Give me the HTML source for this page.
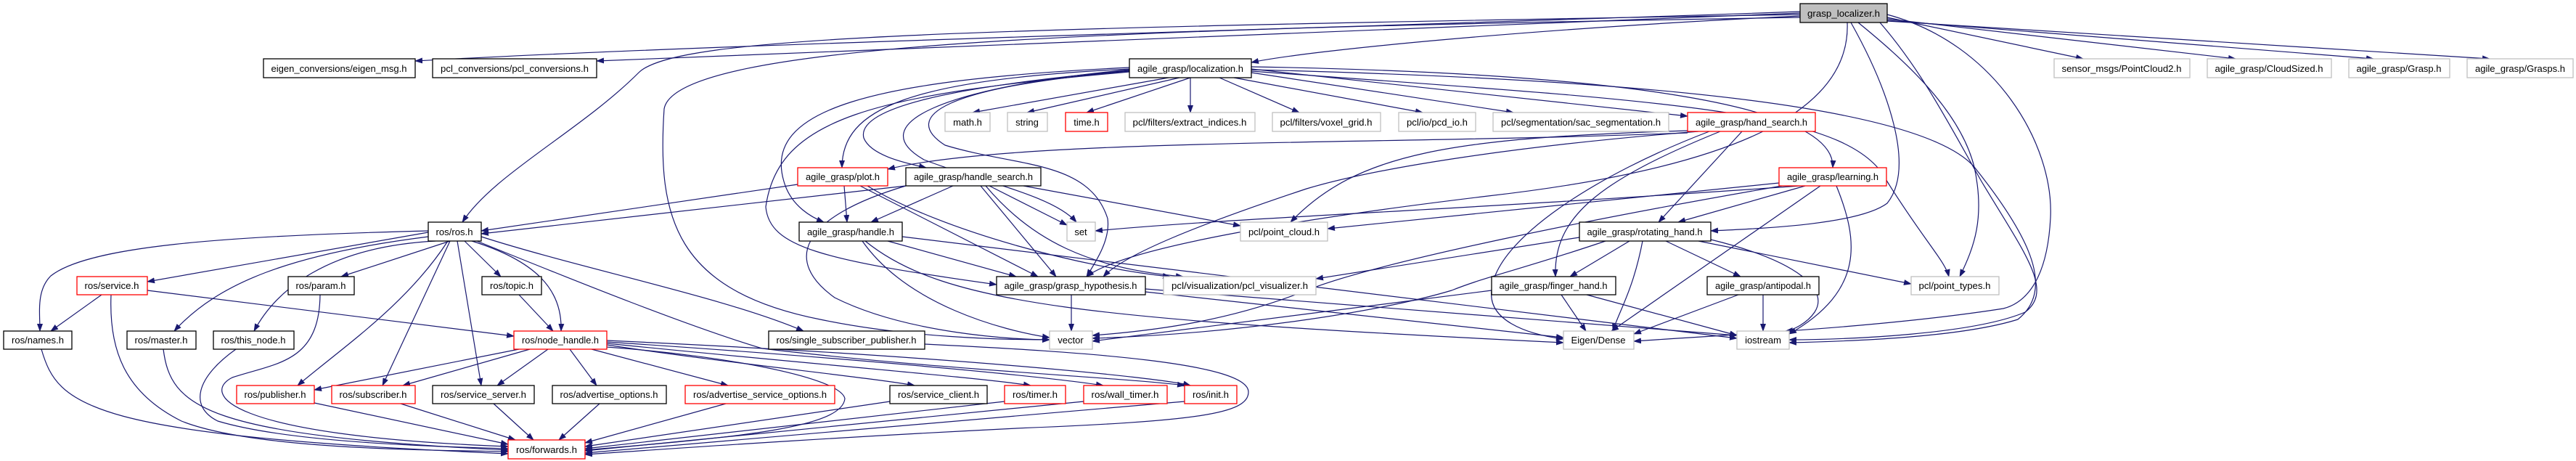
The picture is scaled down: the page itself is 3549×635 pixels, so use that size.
<!DOCTYPE html>
<html><head><meta charset="utf-8"><style>
html,body{margin:0;padding:0;background:#fff;}
svg{display:block;}
text{font-family:"Liberation Sans",sans-serif;font-size:13px;fill:#000;}
.e{fill:none;stroke:#191970;stroke-width:1.2;marker-end:url(#a);}
.k{fill:#fff;stroke:#000;stroke-width:1.3;}
.g{fill:#fff;stroke:#bfbfbf;stroke-width:1.3;}
.r{fill:#fff;stroke:#ff0000;stroke-width:1.3;}
</style></head><body>
<svg width="3549" height="635" viewBox="0 0 3549 635" xmlns="http://www.w3.org/2000/svg">
<defs><marker id="a" markerWidth="11" markerHeight="8" refX="10" refY="4" orient="auto" markerUnits="userSpaceOnUse"><path d="M0,0 L11,4 L0,8z" fill="#191970"/></marker></defs>
<g>
<!-- grasp_localizer -->
<path class="e" d="M2480,16 C1800,40 1000,60 572,84"/>
<path class="e" d="M2480,18 C1800,45 1100,70 822,84"/>
<path class="e" d="M2480,20 C1300,40 930,50 880,100 C800,180 680,240 637,306"/>
<path class="e" d="M2480,22 C2100,40 1800,70 1724,86"/>
<path class="e" d="M2480,24 C1500,40 930,60 915,150 C905,300 930,400 1130,440 C1250,465 1380,468 1446,468"/>
<path class="e" d="M2545,31 C2550,150 2400,230 2050,270 C1800,300 1550,340 1497,381"/>
<path class="e" d="M2550,31 C2600,120 2640,230 2600,280 C2560,310 2420,315 2357,318"/>
<path class="e" d="M2560,31 C2620,80 2700,150 2720,230 C2735,300 2720,340 2700,381"/>
<path class="e" d="M2600,20 C2750,60 2830,200 2825,300 C2820,400 2780,420 2760,425 C2600,450 2400,460 2251,470"/>
<path class="e" d="M2590,31 C2650,100 2690,180 2730,250 C2790,350 2830,400 2790,430 C2720,460 2550,468 2465,468"/>
<path class="e" d="M2600,24 L2870,81"/>
<path class="e" d="M2600,26 L3080,81"/>
<path class="e" d="M2600,28 L3270,81"/>
<path class="e" d="M2600,29 L3430,81"/>
<!-- localization -->
<path class="e" d="M1610,107 L1340,155"/>
<path class="e" d="M1625,107 L1415,155"/>
<path class="e" d="M1640,107 L1497,155"/>
<path class="e" d="M1640,107 L1640,155"/>
<path class="e" d="M1680,107 L1790,155"/>
<path class="e" d="M1700,107 L1960,155"/>
<path class="e" d="M1724,100 L2085,155"/>
<path class="e" d="M1724,95 L2325,160"/>
<path class="e" d="M1724,92 C2200,100 2530,140 2525,231"/>
<path class="e" d="M1724,98 C2300,140 2550,150 2600,250 C2650,330 2680,360 2685,381"/>
<path class="e" d="M1724,96 C2300,110 2650,150 2720,230 C2800,330 2830,400 2780,440 C2700,465 2550,470 2465,472"/>
<path class="e" d="M1556,95 C1250,110 1160,150 1160,231"/>
<path class="e" d="M1556,97 C1300,120 1180,150 1190,190 C1200,215 1250,225 1276,231"/>
<path class="e" d="M1556,93 C1200,110 1050,150 1080,250 C1090,285 1120,300 1135,306"/>
<path class="e" d="M1556,98 C1300,120 1240,160 1302,200 C1400,230 1500,220 1526,301 C1530,330 1510,360 1497,381"/>
<path class="e" d="M1556,96 C1300,120 1187,171 1273,220 C1350,250 1451,269 1483,306"/>
<path class="e" d="M1556,99 C1200,130 1072,163 1055,285 C1060,340 1130,358 1373,392"/>
<!-- ros -->
<path class="e" d="M590,320 L203,388"/>
<path class="e" d="M620,332 L470,381"/>
<path class="e" d="M640,332 L690,381"/>
<path class="e" d="M590,318 C300,325 120,340 70,380 C50,400 55,430 55,456"/>
<path class="e" d="M590,326 C400,350 300,390 240,456"/>
<path class="e" d="M600,332 C450,340 380,400 350,456"/>
<path class="e" d="M650,332 C740,360 775,400 773,456"/>
<path class="e" d="M617,332 C560,420 470,480 410,531"/>
<path class="e" d="M620,332 L527,531"/>
<path class="e" d="M630,332 L663,531"/>
<path class="e" d="M663,326 C800,370 1000,410 1107,456"/>
<path class="e" d="M657,332 C800,390 950,450 1050,480 C1300,510 1550,520 1632,531"/>
<!-- lower ros -->
<path class="e" d="M140,406 L70,456"/>
<path class="e" d="M153,406 C150,480 170,540 250,580 C350,620 600,620 700,622"/>
<path class="e" d="M203,400 L708,463"/>
<path class="e" d="M441,406 C440,500 380,500 320,520 C280,540 300,600 700,615"/>
<path class="e" d="M715,406 L762,456"/>
<path class="e" d="M57,481 C80,560 120,600 700,625"/>
<path class="e" d="M225,481 C235,560 280,600 700,620"/>
<path class="e" d="M325,481 C270,520 260,560 300,580 C400,610 600,615 700,618"/>
<path class="e" d="M715,481 L433,537"/>
<path class="e" d="M730,481 L555,531"/>
<path class="e" d="M755,481 L685,531"/>
<path class="e" d="M785,481 L822,531"/>
<path class="e" d="M815,481 L1003,531"/>
<path class="e" d="M836,475 C1000,500 1200,520 1260,531"/>
<path class="e" d="M836,473 C1100,500 1350,520 1420,531"/>
<path class="e" d="M836,471 C1200,495 1450,520 1520,531"/>
<path class="e" d="M836,469 C1300,490 1600,520 1640,531"/>
<path class="e" d="M836,478 C1000,490 1158,520 1164,549 C1160,590 1015,602 806,620"/>
<path class="e" d="M433,555 L700,612"/>
<path class="e" d="M552,556 L710,606"/>
<path class="e" d="M680,556 L735,606"/>
<path class="e" d="M826,556 L770,606"/>
<path class="e" d="M1000,556 L806,610"/>
<path class="e" d="M1226,553 L806,615"/>
<path class="e" d="M1384,553 L806,618"/>
<path class="e" d="M1493,553 L806,621"/>
<path class="e" d="M1632,553 L806,624"/>
<path class="e" d="M1274,474 C1500,485 1720,500 1720,540 C1720,570 1650,580 1400,590 C1100,605 900,620 806,626"/>
<!-- plot / handle_search -->
<path class="e" d="M1099,254 L663,318"/>
<path class="e" d="M1163,256 L1167,306"/>
<path class="e" d="M1185,256 L1430,381"/>
<path class="e" d="M1195,256 C1300,320 1500,370 1612,381"/>
<path class="e" d="M1248,256 L663,322"/>
<path class="e" d="M1313,256 L1200,306"/>
<path class="e" d="M1351,256 L1455,381"/>
<path class="e" d="M1363,256 L1470,310"/>
<path class="e" d="M1410,256 L1709,311"/>
<path class="e" d="M1358,256 C1420,330 1500,370 1630,381"/>
<path class="e" d="M1248,256 C1100,300 1080,360 1150,410 C1250,460 1400,468 1446,468"/>
<!-- handle -->
<path class="e" d="M1223,332 L1400,381"/>
<path class="e" d="M1243,326 L2393,466"/>
<path class="e" d="M1188,332 C1250,420 1380,455 1446,465"/>
<path class="e" d="M1192,332 C1300,420 1500,440 2154,472"/>
<!-- grasp_hypothesis -->
<path class="e" d="M1476,406 L1476,456"/>
<path class="e" d="M1578,402 L2154,465"/>
<path class="e" d="M1578,398 L2393,462"/>
<!-- rotating_hand -->
<path class="e" d="M2176,327 L1813,384"/>
<path class="e" d="M2245,332 L2163,381"/>
<path class="e" d="M2295,332 L2398,381"/>
<path class="e" d="M2263,332 C2250,400 2230,430 2222,456"/>
<path class="e" d="M2357,330 C2480,360 2520,400 2500,430 C2490,445 2470,455 2460,456"/>
<path class="e" d="M2340,332 L2633,391"/>
<path class="e" d="M2212,332 C2100,370 2050,380 2000,400 C1900,430 1700,460 1505,466"/>
<!-- finger / antipodal -->
<path class="e" d="M2151,406 L2185,456"/>
<path class="e" d="M2186,406 L2393,462"/>
<path class="e" d="M2055,400 L1505,470"/>
<path class="e" d="M2395,406 L2251,460"/>
<path class="e" d="M2429,406 L2429,456"/>
<!-- learning -->
<path class="e" d="M2451,252 L1829,315"/>
<path class="e" d="M2480,256 C2000,290 1700,300 1509,318"/>
<path class="e" d="M2487,256 L2312,306"/>
<path class="e" d="M2508,256 L2220,456"/>
<path class="e" d="M2530,256 C2560,330 2570,400 2465,460"/>
<path class="e" d="M2455,256 C2200,300 1900,360 1800,400 C1700,440 1600,455 1505,462"/>
<!-- hand_search -->
<path class="e" d="M2325,183 C1900,200 1400,190 1223,233"/>
<path class="e" d="M2340,181 C2100,200 1900,230 1800,260 C1650,310 1550,350 1520,381"/>
<path class="e" d="M2400,181 L2285,306"/>
<path class="e" d="M2370,181 C2200,250 2140,300 2143,381"/>
<path class="e" d="M2355,181 C2200,240 2060,330 2055,400 C2050,440 2100,460 2154,467"/>
<path class="e" d="M2325,180 C2000,190 1870,210 1778,306"/>
</g>
<g>
<rect x="2480" y="5" width="120" height="26" fill="#bfbfbf" stroke="#000" stroke-width="1.3"/><text x="2540" y="23" text-anchor="middle" textLength="100" lengthAdjust="spacingAndGlyphs">grasp_localizer.h</text>
<rect class="k" x="363" y="81" width="209" height="26"/><text x="467" y="99" text-anchor="middle" textLength="187" lengthAdjust="spacingAndGlyphs">eigen_conversions/eigen_msg.h</text>
<rect class="k" x="596" y="81" width="226" height="26"/><text x="709" y="99" text-anchor="middle" textLength="204" lengthAdjust="spacingAndGlyphs">pcl_conversions/pcl_conversions.h</text>
<rect class="k" x="1556" y="81" width="168" height="26"/><text x="1640" y="99" text-anchor="middle" textLength="146" lengthAdjust="spacingAndGlyphs">agile_grasp/localization.h</text>
<rect class="g" x="2830" y="81" width="187" height="26"/><text x="2923" y="99" text-anchor="middle" textLength="165" lengthAdjust="spacingAndGlyphs">sensor_msgs/PointCloud2.h</text>
<rect class="g" x="3041" y="81" width="171" height="26"/><text x="3126" y="99" text-anchor="middle" textLength="149" lengthAdjust="spacingAndGlyphs">agile_grasp/CloudSized.h</text>
<rect class="g" x="3236" y="81" width="139" height="26"/><text x="3305" y="99" text-anchor="middle" textLength="117" lengthAdjust="spacingAndGlyphs">agile_grasp/Grasp.h</text>
<rect class="g" x="3399" y="81" width="146" height="26"/><text x="3472" y="99" text-anchor="middle" textLength="124" lengthAdjust="spacingAndGlyphs">agile_grasp/Grasps.h</text>

<rect class="g" x="1302" y="155" width="62" height="26"/><text x="1333" y="173" text-anchor="middle">math.h</text>
<rect class="g" x="1388" y="155" width="55" height="26"/><text x="1415" y="173" text-anchor="middle">string</text>
<rect class="r" x="1468" y="155" width="58" height="26"/><text x="1497" y="173" text-anchor="middle">time.h</text>
<rect class="g" x="1550" y="155" width="179" height="26"/><text x="1639" y="173" text-anchor="middle" textLength="157" lengthAdjust="spacingAndGlyphs">pcl/filters/extract_indices.h</text>
<rect class="g" x="1753" y="155" width="149" height="26"/><text x="1827" y="173" text-anchor="middle" textLength="127" lengthAdjust="spacingAndGlyphs">pcl/filters/voxel_grid.h</text>
<rect class="g" x="1927" y="155" width="106" height="26"/><text x="1980" y="173" text-anchor="middle" textLength="84" lengthAdjust="spacingAndGlyphs">pcl/io/pcd_io.h</text>
<rect class="g" x="2057" y="155" width="242" height="26"/><text x="2178" y="173" text-anchor="middle" textLength="220" lengthAdjust="spacingAndGlyphs">pcl/segmentation/sac_segmentation.h</text>
<rect class="r" x="2325" y="155" width="176" height="26"/><text x="2413" y="173" text-anchor="middle" textLength="154" lengthAdjust="spacingAndGlyphs">agile_grasp/hand_search.h</text>

<rect class="r" x="1099" y="231" width="124" height="25"/><text x="1161" y="248" text-anchor="middle" textLength="102" lengthAdjust="spacingAndGlyphs">agile_grasp/plot.h</text>
<rect class="k" x="1248" y="231" width="186" height="25"/><text x="1341" y="248" text-anchor="middle" textLength="164" lengthAdjust="spacingAndGlyphs">agile_grasp/handle_search.h</text>
<rect class="r" x="2451" y="231" width="148" height="25"/><text x="2525" y="248" text-anchor="middle" textLength="126" lengthAdjust="spacingAndGlyphs">agile_grasp/learning.h</text>

<rect class="k" x="590" y="306" width="73" height="26"/><text x="626" y="324" text-anchor="middle" textLength="51" lengthAdjust="spacingAndGlyphs">ros/ros.h</text>
<rect class="k" x="1101" y="306" width="142" height="26"/><text x="1172" y="324" text-anchor="middle" textLength="120" lengthAdjust="spacingAndGlyphs">agile_grasp/handle.h</text>
<rect class="g" x="1470" y="306" width="39" height="26"/><text x="1489" y="324" text-anchor="middle">set</text>
<rect class="g" x="1709" y="306" width="120" height="26"/><text x="1769" y="324" text-anchor="middle" textLength="98" lengthAdjust="spacingAndGlyphs">pcl/point_cloud.h</text>
<rect class="k" x="2176" y="306" width="181" height="26"/><text x="2266" y="324" text-anchor="middle" textLength="159" lengthAdjust="spacingAndGlyphs">agile_grasp/rotating_hand.h</text>

<rect class="r" x="106" y="381" width="97" height="25"/><text x="154" y="398" text-anchor="middle" textLength="75" lengthAdjust="spacingAndGlyphs">ros/service.h</text>
<rect class="k" x="397" y="381" width="91" height="25"/><text x="442" y="398" text-anchor="middle" textLength="69" lengthAdjust="spacingAndGlyphs">ros/param.h</text>
<rect class="k" x="664" y="381" width="82" height="25"/><text x="705" y="398" text-anchor="middle" textLength="60" lengthAdjust="spacingAndGlyphs">ros/topic.h</text>
<rect class="k" x="1373" y="381" width="205" height="25"/><text x="1475" y="398" text-anchor="middle" textLength="183" lengthAdjust="spacingAndGlyphs">agile_grasp/grasp_hypothesis.h</text>
<rect class="g" x="1603" y="381" width="210" height="25"/><text x="1708" y="398" text-anchor="middle" textLength="188" lengthAdjust="spacingAndGlyphs">pcl/visualization/pcl_visualizer.h</text>
<rect class="k" x="2055" y="381" width="171" height="25"/><text x="2140" y="398" text-anchor="middle" textLength="149" lengthAdjust="spacingAndGlyphs">agile_grasp/finger_hand.h</text>
<rect class="k" x="2352" y="381" width="154" height="25"/><text x="2429" y="398" text-anchor="middle" textLength="132" lengthAdjust="spacingAndGlyphs">agile_grasp/antipodal.h</text>
<rect class="g" x="2633" y="381" width="121" height="25"/><text x="2693" y="398" text-anchor="middle" textLength="99" lengthAdjust="spacingAndGlyphs">pcl/point_types.h</text>

<rect class="k" x="5" y="456" width="94" height="25"/><text x="52" y="473" text-anchor="middle" textLength="72" lengthAdjust="spacingAndGlyphs">ros/names.h</text>
<rect class="k" x="175" y="456" width="95" height="25"/><text x="222" y="473" text-anchor="middle" textLength="73" lengthAdjust="spacingAndGlyphs">ros/master.h</text>
<rect class="k" x="294" y="456" width="111" height="25"/><text x="349" y="473" text-anchor="middle" textLength="89" lengthAdjust="spacingAndGlyphs">ros/this_node.h</text>
<rect class="r" x="708" y="456" width="128" height="25"/><text x="772" y="473" text-anchor="middle" textLength="106" lengthAdjust="spacingAndGlyphs">ros/node_handle.h</text>
<rect class="k" x="1059" y="456" width="215" height="25"/><text x="1166" y="473" text-anchor="middle" textLength="193" lengthAdjust="spacingAndGlyphs">ros/single_subscriber_publisher.h</text>
<rect class="g" x="1446" y="456" width="59" height="25"/><text x="1475" y="473" text-anchor="middle">vector</text>
<rect class="g" x="2154" y="456" width="97" height="25"/><text x="2202" y="473" text-anchor="middle" textLength="75" lengthAdjust="spacingAndGlyphs">Eigen/Dense</text>
<rect class="g" x="2393" y="456" width="72" height="25"/><text x="2429" y="473" text-anchor="middle">iostream</text>

<rect class="r" x="326" y="531" width="107" height="25"/><text x="379" y="548" text-anchor="middle" textLength="85" lengthAdjust="spacingAndGlyphs">ros/publisher.h</text>
<rect class="r" x="457" y="531" width="115" height="25"/><text x="514" y="548" text-anchor="middle" textLength="93" lengthAdjust="spacingAndGlyphs">ros/subscriber.h</text>
<rect class="k" x="596" y="531" width="140" height="25"/><text x="666" y="548" text-anchor="middle" textLength="118" lengthAdjust="spacingAndGlyphs">ros/service_server.h</text>
<rect class="k" x="761" y="531" width="157" height="25"/><text x="839" y="548" text-anchor="middle" textLength="135" lengthAdjust="spacingAndGlyphs">ros/advertise_options.h</text>
<rect class="r" x="944" y="531" width="206" height="25"/><text x="1047" y="548" text-anchor="middle" textLength="184" lengthAdjust="spacingAndGlyphs">ros/advertise_service_options.h</text>
<rect class="k" x="1226" y="531" width="134" height="25"/><text x="1293" y="548" text-anchor="middle" textLength="112" lengthAdjust="spacingAndGlyphs">ros/service_client.h</text>
<rect class="r" x="1384" y="531" width="84" height="25"/><text x="1426" y="548" text-anchor="middle" textLength="62" lengthAdjust="spacingAndGlyphs">ros/timer.h</text>
<rect class="r" x="1493" y="531" width="115" height="25"/><text x="1550" y="548" text-anchor="middle" textLength="93" lengthAdjust="spacingAndGlyphs">ros/wall_timer.h</text>
<rect class="r" x="1632" y="531" width="72" height="25"/><text x="1668" y="548" text-anchor="middle" textLength="50" lengthAdjust="spacingAndGlyphs">ros/init.h</text>

<rect class="r" x="700" y="606" width="106" height="26"/><text x="753" y="624" text-anchor="middle" textLength="84" lengthAdjust="spacingAndGlyphs">ros/forwards.h</text>
</g>
</svg>
</body></html>
